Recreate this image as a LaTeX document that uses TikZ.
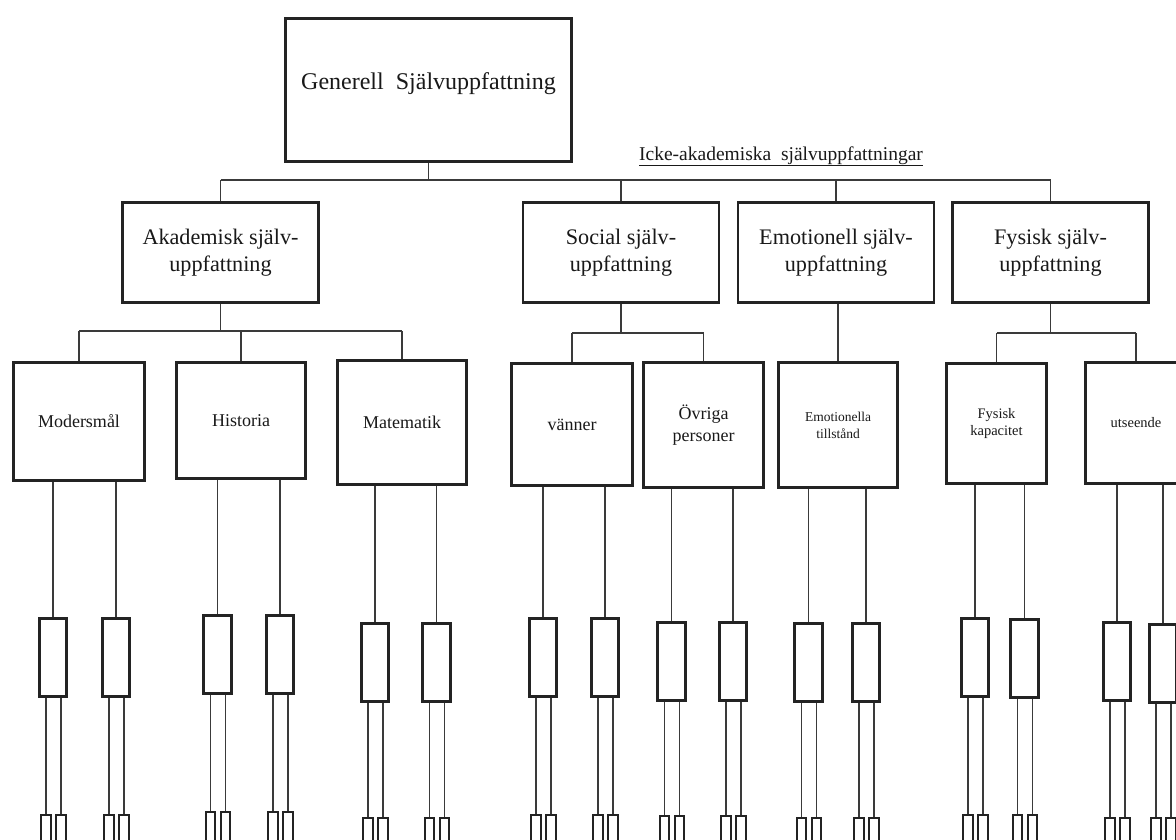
\documentclass[tikz,border=0pt]{standalone}
\usepackage{fontspec}
\setmainfont{Liberation Serif}
\definecolor{boxcol}{HTML}{232323}
\definecolor{linecol}{HTML}{3A3A3A}
\begin{document}
\begin{tikzpicture}[x=1bp,y=-1bp,
  box/.style={draw=boxcol, line width=2.8bp, rectangle, inner sep=0pt, align=center, text=black!90},
  topbox/.style={box, font=\fontsize{24bp}{29bp}\selectfont},
  midbox/.style={box, minimum width=196bp, minimum height=100bp, font=\fontsize{22.2bp}{27bp}\selectfont},
  subbox/.style={box, font=\fontsize{18bp}{22bp}\selectfont},
  smallfont/.style={font=\fontsize{#1bp}{17bp}\selectfont},
  facetbox/.style={draw=boxcol, line width=2.6bp, rectangle, inner sep=0pt, minimum width=27.5bp, minimum height=78bp},
  itembox/.style={draw=boxcol, line width=2.4bp, rectangle, inner sep=0pt, minimum width=9.5bp, minimum height=80bp},
  conn/.style={draw=linecol, line width=1.6bp}
]
\useasboundingbox (0,0) rectangle (1176,840);
\fill[white] (0,0) rectangle (1176,840);
\clip (0,0) rectangle (1176,840);

% top level
\node[topbox, minimum width=286bp, minimum height=143bp] (gen) at (428.5,90) {};
\node[font=\fontsize{24bp}{29bp}\selectfont, text=black!90, inner sep=0pt] (gentext) at (428.5,84) {Generell\ \ Självuppfattning};

% second level
\node[midbox] (akad) at (220.5,252.5) {Akademisk själv-\\uppfattning};
\node[midbox] (soc)  at (621,252.5)   {Social själv-\\uppfattning};
\node[midbox] (emo)  at (836,252.5)   {Emotionell själv-\\uppfattning};
\node[midbox] (fys)  at (1050.5,252.5) {Fysisk själv-\\uppfattning};

\node[font=\fontsize{19.5bp}{23bp}\selectfont, anchor=base, text=black!90, inner sep=0pt] (icke) at (781,160) {\underline{Icke-akademiska\ \ självuppfattningar}};

% third level
\node[subbox, minimum width=131bp, minimum height=118bp] (mod)  at (79,421.5)    {Modersmål};
\node[subbox, minimum width=129bp, minimum height=116bp] (hist) at (241,420.5)   {Historia};
\node[subbox, minimum width=129bp, minimum height=124bp] (mat)  at (402,422.5)   {Matematik};
\node[subbox, minimum width=121bp, minimum height=122bp] (van)  at (572,424.5)   {vänner};
\node[subbox, minimum width=120bp, minimum height=125bp] (ovr)  at (703.5,425)   {Övriga\\personer};
\node[box, smallfont=13.5, minimum width=119bp, minimum height=125bp] (emot) at (838,425) {Emotionella\\tillstånd};
\node[box, smallfont=14.5, minimum width=100bp, minimum height=120bp] (kap)  at (996.5,423.5) {Fysisk\\kapacitet};
\node[box, smallfont=14.5, minimum width=101bp, minimum height=121bp] (uts)  at (1136,423) {utseende};

% bus lines
\coordinate (bus0) at (0,180);
\coordinate (busA) at (0,331);
\coordinate (busS) at (0,333);
\coordinate (busF) at (0,333);

\draw[conn] (gen.south) -- (gen.south |- bus0);
\draw[conn] (akad.north |- bus0) -- (fys.north |- bus0);
\foreach \n in {akad,soc,emo,fys}
  \draw[conn] (\n.north |- bus0) -- (\n.north);

\draw[conn] (akad.south) -- (akad.south |- busA);
\draw[conn] (mod.north |- busA) -- (mat.north |- busA);
\foreach \n in {mod,hist,mat}
  \draw[conn] (\n.north |- busA) -- (\n.north);

\draw[conn] (soc.south) -- (soc.south |- busS);
\draw[conn] (van.north |- busS) -- (ovr.north |- busS);
\foreach \n in {van,ovr}
  \draw[conn] (\n.north |- busS) -- (\n.north);

\draw[conn] (emot.north |- emo.south) -- (emot.north);

\draw[conn] (fys.south) -- (fys.south |- busF);
\draw[conn] (kap.north |- busF) -- (uts.north |- busF);
\foreach \n in {kap,uts}
  \draw[conn] (\n.north |- busF) -- (\n.north);

% fourth and fifth levels: parent / x / top of facet box / top of item boxes
\foreach \p/\c/\yt/\tt [count=\i] in {
  mod/53/617/815, mod/116/617/815,
  hist/217.5/614/812, hist/280/614/812,
  mat/375/622/818, mat/436.5/622/818,
  van/543/617/815, van/605/617/815,
  ovr/671.5/621/816, ovr/733/621/816,
  emot/808.5/622/818, emot/866/622/818,
  kap/975/617/815, kap/1024.5/618/815,
  uts/1117/621/818, uts/1163/623/818}
{
  \node[facetbox] (s\i) at (\c,\yt+40.5) {};
  \draw[conn] (s\i.north |- \p.south) -- (s\i.north);
  \node[itembox] (ta\i) at (\c-7,\tt+40) {};
  \node[itembox] (tb\i) at (\c+8,\tt+40) {};
  \draw[conn] (ta\i.north |- s\i.south) -- (ta\i.north);
  \draw[conn] (tb\i.north |- s\i.south) -- (tb\i.north);
}
\end{tikzpicture}
\end{document}
